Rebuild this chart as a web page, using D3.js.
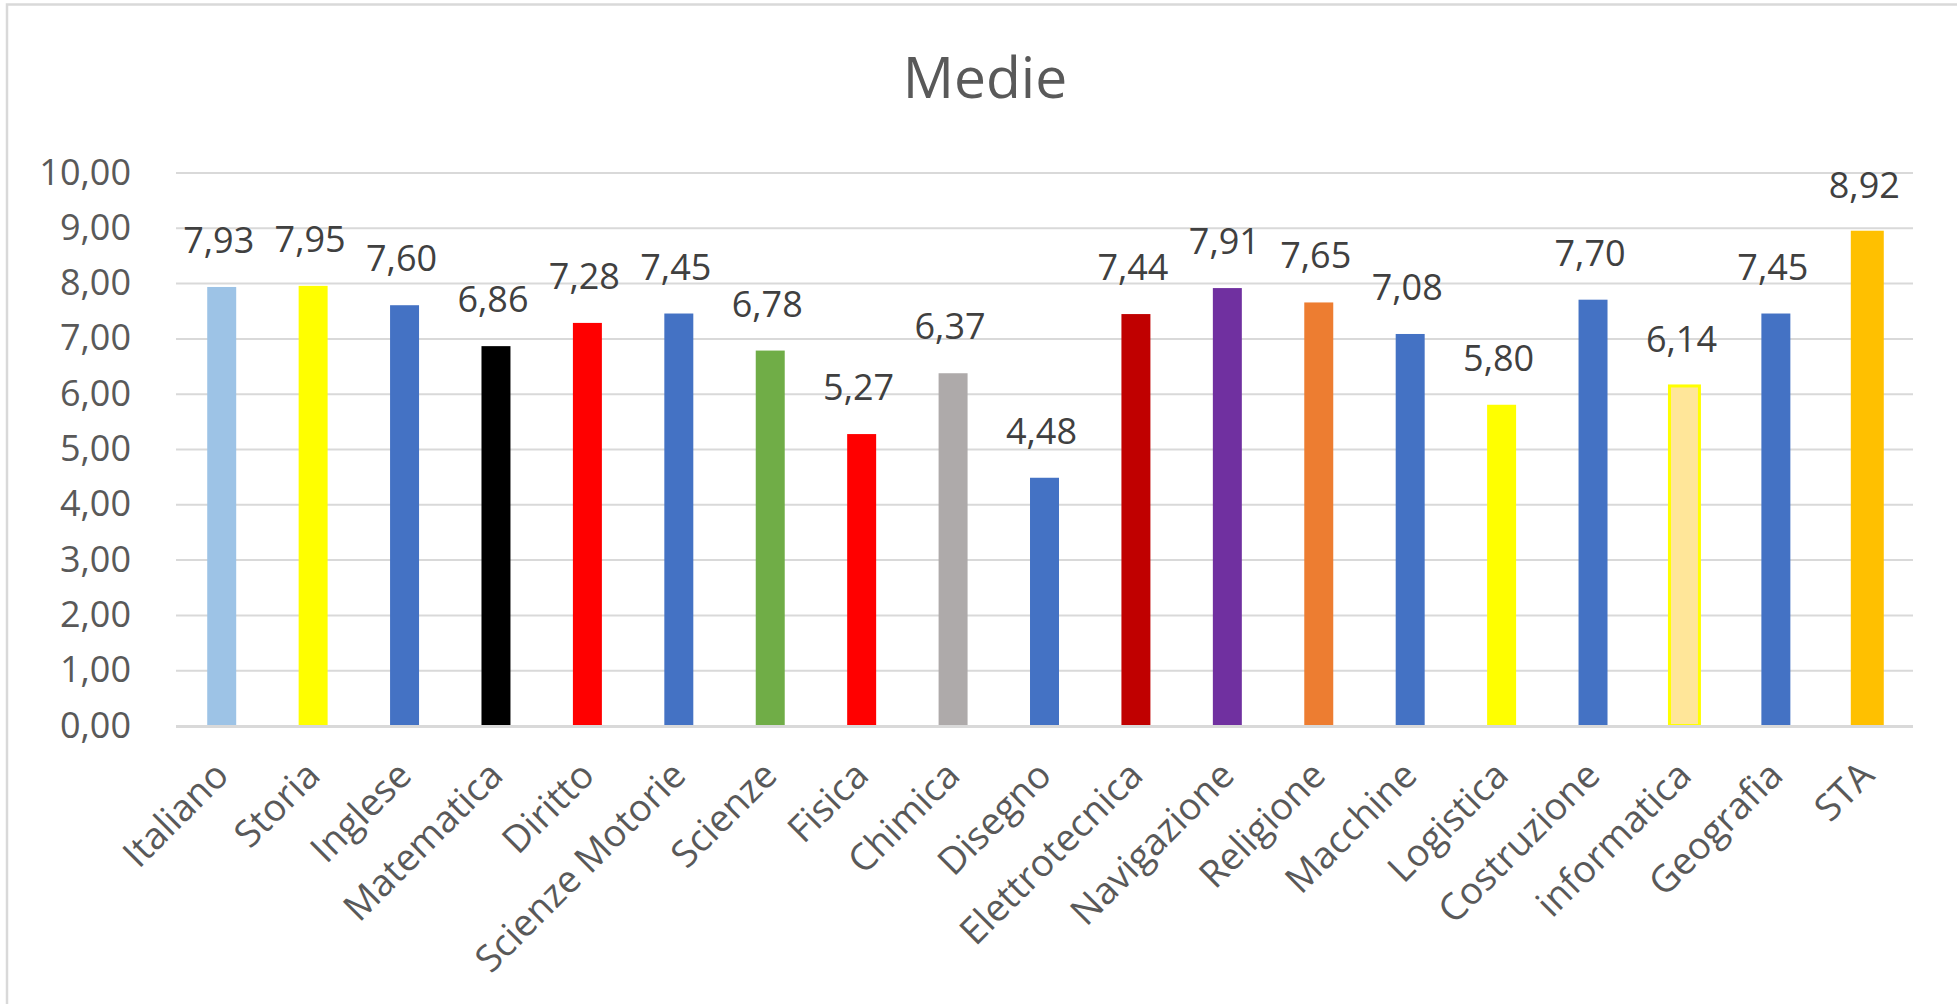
<!DOCTYPE html>
<html>
<head>
<meta charset="utf-8">
<script src="https://cdn.jsdelivr.net/npm/d3@7"></script>
<style>
  html, body { margin: 0; padding: 0; background: #ffffff; }
  svg { display: block; }
</style>
</head>
<body>
<script>
const categories = ["Italiano", "Storia", "Inglese", "Matematica", "Diritto", "Scienze Motorie", "Scienze", "Fisica", "Chimica", "Disegno", "Elettrotecnica", "Navigazione", "Religione", "Macchine", "Logistica", "Costruzione", "informatica", "Geografia", "STA"];
const values = [7.93, 7.95, 7.60, 6.86, 7.28, 7.45, 6.78, 5.27, 6.37, 4.48, 7.44, 7.91, 7.65, 7.08, 5.80, 7.70, 6.14, 7.45, 8.92];
const barColors = ["#9DC3E6", "#FFFF00", "#4472C4", "#000000", "#FF0000", "#4472C4", "#70AD47", "#FF0000", "#AEAAAA", "#4472C4", "#C00000", "#7030A0", "#ED7D31", "#4472C4", "#FFFF00", "#4472C4", "#FFE699", "#4472C4", "#FFC000"];
const barStrokes = [null, null, null, null, null, null, null, null, null, null, null, null, null, null, null, null, "#FFFF00", null, "#FFC000"];
const yTicks = [0, 1, 2, 3, 4, 5, 6, 7, 8, 9, 10];
const title = "Medie";

const W = 1957, H = 1004;
const plot = { left: 176, right: 1913, top: 172.5, bottom: 725.5 };
const FONT = "'Open Sans', 'Noto Sans', sans-serif";

const itLocale = d3.formatLocale({ decimal: ",", thousands: ".", grouping: [3], currency: ["€", ""] });
const fmt = itLocale.format(".2f");

const svg = d3.select("body").append("svg").attr("width", W).attr("height", H);

// chart border
svg.append("rect")
  .attr("x", 7).attr("y", 4.5)
  .attr("width", 2100).attr("height", 1200)
  .attr("fill", "#ffffff")
  .attr("stroke", "#d9d9d9").attr("stroke-width", 2.5);

// title
svg.append("text")
  .attr("x", 985).attr("y", 98)
  .attr("text-anchor", "middle")
  .attr("font-family", FONT).attr("font-size", 57)
  .attr("fill", "#595959")
  .text(title);

const x = d3.scaleBand()
  .domain(categories)
  .range([plot.left, plot.right])
  .paddingInner(0.683)
  .paddingOuter(0.3415);

const y = d3.scaleLinear()
  .domain([0, 10])
  .range([plot.bottom, plot.top]);

// y axis with gridlines
const yAxis = d3.axisLeft(y)
  .tickValues(yTicks)
  .tickSize(-(plot.right - plot.left))
  .tickPadding(45)
  .tickFormat(fmt);

const gy = svg.append("g")
  .attr("transform", `translate(${plot.left},0)`)
  .call(yAxis);
gy.select(".domain").remove();
gy.selectAll(".tick line")
  .attr("stroke", "#d9d9d9").attr("stroke-width", 2);
gy.selectAll(".tick text")
  .attr("font-family", FONT).attr("font-size", 36)
  .attr("fill", "#595959");

const data = categories.map((c, i) => ({ c, v: values[i], color: barColors[i], stroke: barStrokes[i] }));

// bars
svg.append("g").selectAll("rect")
  .data(data)
  .join("rect")
  .attr("x", d => x(d.c) + (d.stroke ? -0.5 : 0))
  .attr("width", d => x.bandwidth() + (d.stroke ? 1 : 0))
  .attr("y", d => y(d.v))
  .attr("height", d => y(0) - y(d.v))
  .attr("fill", d => d.color)
  .attr("stroke", d => d.stroke || "none")
  .attr("stroke-width", d => d.stroke ? 3 : 0);

// x axis line
svg.append("line")
  .attr("x1", plot.left).attr("x2", plot.right)
  .attr("y1", y(0) + 1).attr("y2", y(0) + 1)
  .attr("stroke", "#d9d9d9").attr("stroke-width", 3);

// data labels
svg.append("g").selectAll("text")
  .data(data)
  .join("text")
  .attr("x", d => x(d.c) + x.bandwidth() / 2 - 3)
  .attr("y", d => y(d.v) - 34)
  .attr("text-anchor", "middle")
  .attr("font-family", FONT).attr("font-size", 36)
  .attr("fill", "#404040")
  .text(d => fmt(d.v));

// category labels
svg.append("g").selectAll("text")
  .data(data)
  .join("text")
  .attr("transform", d => `translate(${x(d.c) + x.bandwidth() / 2 + 9},${y(0) + 52}) rotate(-45)`)
  .attr("text-anchor", "end")
  .attr("font-family", FONT).attr("font-size", 37.5)
  .attr("fill", "#595959")
  .text(d => d.c);
</script>
</body>
</html>
